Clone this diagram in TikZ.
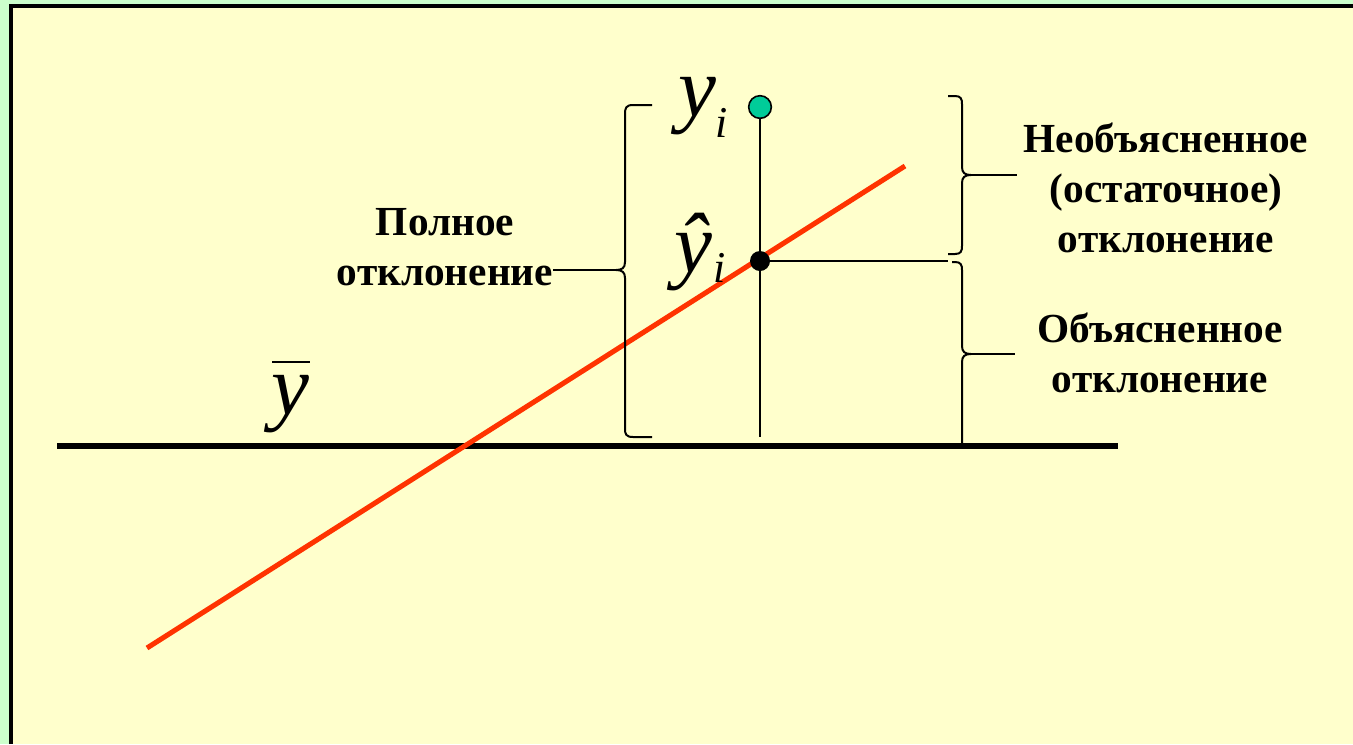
\documentclass[tikz,border=0pt]{standalone}
\usepackage{fontspec}
\setmainfont{Liberation Serif}
\definecolor{bggreen}{HTML}{CCFFCC}
\definecolor{bgyellow}{HTML}{FFFFCC}
\definecolor{regred}{HTML}{FF3300}
\definecolor{dotgreen}{HTML}{00CC99}
\begin{document}
\begin{tikzpicture}[x=0.75pt,y=-0.75pt,
  lbl/.style={font=\bfseries\fontsize{31}{37.5}\selectfont,align=center,inner sep=0pt},
  thin/.style={line width=1.5pt,black},
  brace/.style={line width=1.5pt,black},
  var/.style={font=\itshape\fontsize{64}{64}\selectfont,inner sep=0pt},
  sub/.style={font=\itshape\fontsize{33}{33}\selectfont,inner sep=0pt}]
\useasboundingbox (0,0) rectangle (1353,744);
\fill[bggreen] (0,0) rectangle (1353,744);
\fill[bgyellow] (11,6) rectangle (1353,744);
\draw[line width=2.5pt,black] (11,744) -- (11,6) -- (1353,6);
% axis line (mean)
\coordinate (ml) at (57,446);
\coordinate (mr) at (1118,446);
\draw[line width=3.8pt] (ml) -- (mr);
% regression line
\coordinate (ra) at (147,648);
\coordinate (rb) at (905,166);
\draw[line width=3.8pt,regred] (ra) -- (rb);
% points
\node[circle,draw=black,line width=1.2pt,fill=dotgreen,minimum size=17pt,inner sep=0pt] (yi) at (760,107) {};
\node[circle,fill=black,minimum size=15pt,inner sep=0pt] (yh) at (760,261) {};
\coordinate (base) at (760,437);
\draw[thin] (yi) -- (base);
\coordinate (hr) at (948,261);
\draw[thin] (yh) -- (hr);
% left brace
\coordinate (ltip) at (616,270);
\draw[brace] (652,105) -- (633,105) .. controls (626,105) and (625,108) .. (625,114) -- (625,262) .. controls (625,268) and (622,270) .. (ltip) .. controls (622,270) and (625,272) .. (625,278) -- (625,429) .. controls (625,434) and (626,437) .. (633,437) -- (652,437);
% right upper brace
\coordinate (rtip1) at (971,175);
\draw[brace] (948,96) -- (955,96) .. controls (961,96) and (962,99) .. (962,104) -- (962,167) .. controls (962,173) and (965,175) .. (rtip1) .. controls (965,175) and (962,177) .. (962,183) -- (962,246) .. controls (962,251) and (961,254) .. (955,254) -- (948,254);
% right lower brace
\coordinate (rtip2) at (971,354);
\draw[brace] (952,262) -- (955,262) .. controls (961,262) and (962,265) .. (962,270) -- (962,346) .. controls (962,352) and (965,354) .. (rtip2) .. controls (965,354) and (962,356) .. (962,362) -- (962,444);
% labels
\node[lbl] (full) at (445,247) {Полное\\отклонение};
\node[lbl] (unexp) at (1166,188) {Необъясненное\\(остаточное)\\отклонение};
\node[lbl] (exp) at (1160,353) {Объясненное\\отклонение};
\coordinate (fullE) at (553,270);
\draw[line width=1pt] (ltip) -- (fullE);
\coordinate (t1) at (1017,175);
\coordinate (t2) at (1015,354);
\draw[line width=1pt] (rtip1) -- (t1);
\draw[line width=1pt] (rtip2) -- (t2);
% variables
\node[var] (vy) at (697,106) {y};
\node[sub] (vyi) at (722,123) {i};
\node[var] (vyh) at (693,252) {ŷ};
\node[sub] (vyhi) at (720,268) {i};
\node[var] (vyb) at (290,404) {y};
\coordinate (bl) at (272,362);
\coordinate (br) at (310,362);
\draw[line width=1.8pt] (bl) -- (br);
\end{tikzpicture}
\end{document}
